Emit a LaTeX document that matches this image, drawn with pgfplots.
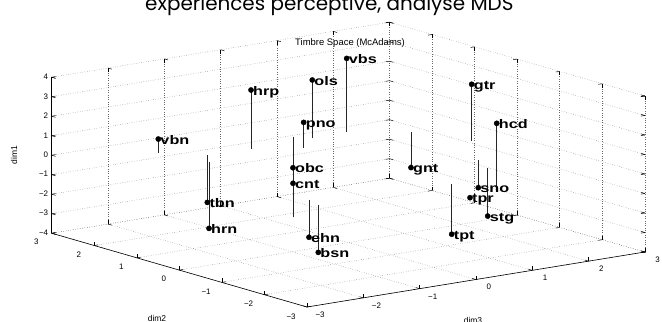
\documentclass[border=0pt]{standalone}
\usepackage{pgfplots}
\pgfplotsset{compat=1.18}
\usepackage{pgfplotstable}
\usepackage{fontspec}
\setmainfont{Liberation Sans}
\newfontfamily\topfont{Poppins}
\pgfplotstableread{
name x y z
vbn -1.690 2.228 0.70
hrp -0.480 1.650 3.01
vbs 1.252 1.693 3.79
ols 0.625 1.672 2.99
pno 0.134 1.225 1.33
obc -2.699 -2.272 2.54
cnt 0.469 1.919 -2.39
tbn -1.224 1.693 -2.43
hrn -1.468 1.330 -3.42
ehn -1.837 -1.508 -1.91
bsn -1.928 -1.847 -2.43
gtr 2.330 0.182 2.91
hcd 0.818 -2.407 3.25
gnt 1.982 1.148 -1.81
sno 1.658 -0.862 -1.42
tpr 0.159 -2.651 -0.10
stg 1.439 -1.373 -2.45
tpt 0.401 -1.901 -2.56
}\pts
\begin{document}
\begin{tikzpicture}
\node[anchor=base west, inner sep=0pt] at (145bp,-10bp) {\topfont\fontsize{20}{20}\selectfont experiences perceptive, analyse MDS};
\node[anchor=center, inner sep=0pt] at (350bp,-43bp) {\fontsize{9.5}{10}\selectfont Timbre Space (McAdams)};
\node[rotate=90, inner sep=0pt] at (14bp,-155bp) {\fontsize{8.5}{9}\selectfont dim1};
\node[inner sep=0pt] at (157bp,-318bp) {\fontsize{8.5}{9}\selectfont dim2};
\node[inner sep=0pt] at (473bp,-320bp) {\fontsize{8.5}{9}\selectfont dim3};
\begin{axis}[
  at={(348.25bp,-164.6bp)}, anchor=origin,
  disabledatascaling,
  x={(56.3bp,9.17bp)}, y={(-42.55bp,12.3bp)}, z={(0bp,19.5bp)},
  xmin=-3, xmax=3, ymin=-3, ymax=3, zmin=-4, zmax=4,
  xtick={-3,...,3}, ytick={-3,...,3}, ztick={-4,...,4},
  xticklabels={−3,−2,−1,0,1,2,3},
  yticklabels={−3,−2,−1,0,1,2,3},
  zticklabels={−4,−3,−2,−1,0,1,2,3,4},
  ticklabel style={font=\fontsize{8}{9}\selectfont},
  xticklabel style={xshift=8bp, yshift=-1bp},
  yticklabel style={xshift=-10bp, yshift=-2.5bp},
  grid=major,
  major grid style={dotted, black!60, line width=0.45pt},
  axis line style={draw=none},
  major tick length=4bp,
  tick style={black, line width=0.5pt},
  clip=false,
]
\draw[black, line width=0.6pt] (axis cs:-3,3,-4) -- (axis cs:-3,3,4);
\draw[black, line width=0.6pt] (axis cs:-3,3,-4) -- (axis cs:-3,-3,-4) -- (axis cs:3,-3,-4);
\addplot3[-, draw=black!85, line width=0.8pt, quiver={u=0, v=0, w=\thisrow{z}}]
  table[x=x, y=y, z expr=0] {\pts};
\addplot3[only marks, mark=*, mark size=2.6bp, black,
  point meta=explicit symbolic,
  nodes near coords={\scalebox{1.3}[1]{\pgfplotspointmeta}},
  nodes near coords style={anchor=base west, inner sep=0pt, xshift=2bp, yshift=-5bp,
    font=\bfseries\fontsize{12.5}{13}\selectfont, text=black}]
  table[x=x, y=y, z=z, meta=name] {\pts};
\end{axis}
\pgfresetboundingbox
\useasboundingbox (0,0) rectangle (662bp,-322bp);
\end{tikzpicture}
\end{document}
